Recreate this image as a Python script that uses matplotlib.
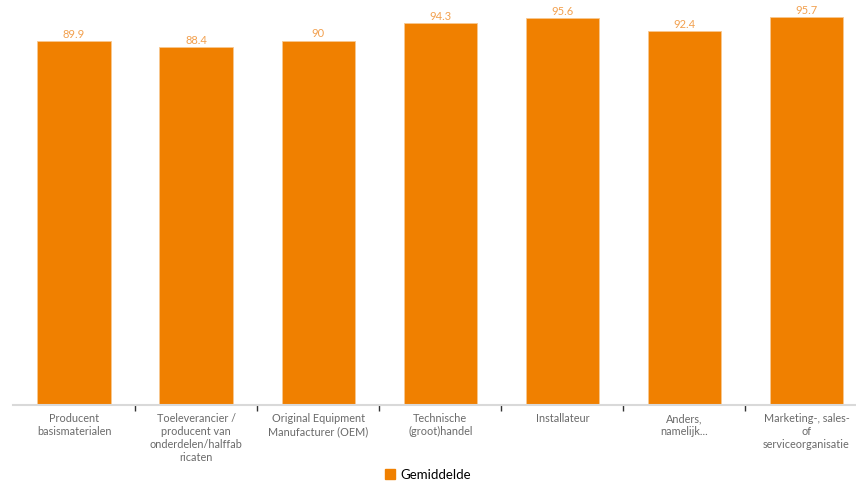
import matplotlib.pyplot as plt
import matplotlib.patches as mpatches
import numpy as np

categories = ['Producent\nbasismaterialen',
              'Toeleverancier /\nproducent van\nonderdelen/halffab\nricaten',
              'Original Equipment\nManufacturer (OEM)',
              'Technische\n(groot)handel',
              'Installateur',
              'Anders,\nnamelijk...',
              'Marketing-, sales-\nof\nserviceorganisatie']
values = [89.9, 88.4, 90, 94.3, 95.6, 92.4, 95.7]
value_labels = ['89.9', '88.4', '90', '94.3', '95.6', '92.4', '95.7']
series_name = 'Gemiddelde'

bar_colour = '#f08000'

plt.rcParams['font.family'] = ['Lato', 'DejaVu Sans']

fig = plt.figure(figsize=(8.56, 4.83), dpi=100)
ax = fig.add_axes([13/856, 1 - 405/483, (867.5 - 13)/856, 405/483])

x = np.arange(len(categories))
bars = ax.bar(x, values, width=0.6, color=bar_colour, edgecolor='#f8c890', linewidth=0.6)
for i, b in enumerate(bars):
    ax.text(b.get_x() + b.get_width()/2, b.get_height() + 0.3, value_labels[i],
            ha='center', va='bottom', fontsize=8, color='#f2a04e')

ax.set_xlim(-0.5, len(categories) - 0.5)
ax.set_ylim(0, 100)
ax.set_yticks([])
ax.set_xticks(x)
ax.set_xticklabels(categories, fontsize=7.8, color='#6a6a6a', linespacing=1.2, va='top')
ax.tick_params(axis='x', which='major', length=0, pad=6)
ax.set_xticks(np.arange(0.5, len(categories) - 0.5, 1), minor=True)
ax.tick_params(axis='x', which='minor', length=4, width=1, color='#333333')
for s in ['top', 'right', 'left']:
    ax.spines[s].set_visible(False)
ax.spines['bottom'].set_color('#d9d9d9')
ax.spines['bottom'].set_linewidth(1.5)

patch = mpatches.Patch(color=bar_colour, label=series_name)
fig.legend(handles=[patch], loc='center', bbox_to_anchor=(0.5, 1 - 475/483), frameon=False,
           fontsize=9.5, handlelength=0.8, handleheight=0.8, handletextpad=0.4)

plt.savefig('out.png', dpi=100)
